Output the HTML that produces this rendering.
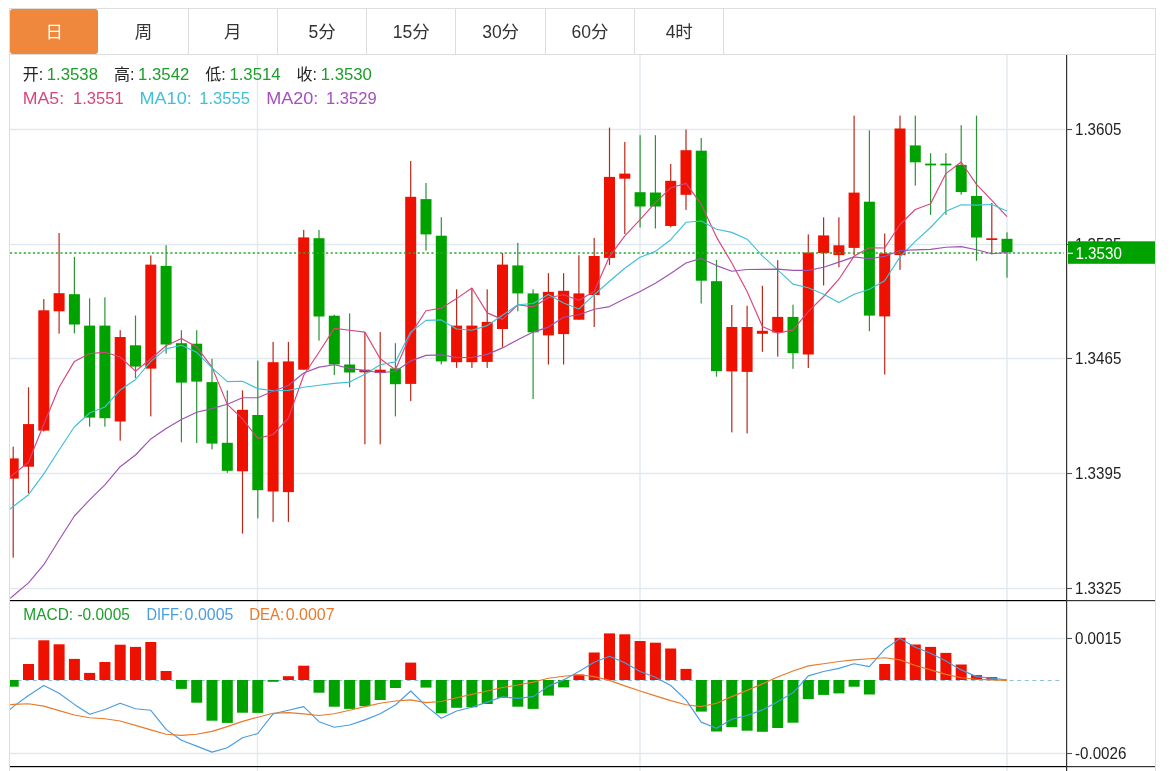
<!DOCTYPE html><html lang="zh"><head><meta charset="utf-8"><title>K线图</title>
<style>
html,body{margin:0;padding:0;background:#fff;overflow:hidden}
body{width:1171px;height:771px;position:relative;font-family:"Liberation Sans","Noto Sans CJK SC",sans-serif}
.tabs{position:absolute;left:9px;top:8px;width:1147px;height:47px;border:1px solid #ddd;box-sizing:border-box;background:#fff}
.tab{position:absolute;top:0;height:45px;line-height:47.6px;overflow:hidden;text-align:center;font-size:17.5px;color:#333;border-right:1px solid #ddd;box-sizing:border-box}
.tab.on{background:#ef873d;color:#fff;border-radius:3px;border-right:none}
svg{position:absolute;left:0;top:0}
svg text{font-family:"Liberation Sans","Noto Sans CJK SC",sans-serif}
</style></head><body>
<div class="tabs">
<div class="tab on" style="left:0.0px;width:88.4px">日</div>
<div class="tab" style="left:89.3px;width:89.3px">周</div>
<div class="tab" style="left:178.6px;width:89.3px">月</div>
<div class="tab" style="left:267.9px;width:89.3px">5分</div>
<div class="tab" style="left:357.2px;width:89.3px">15分</div>
<div class="tab" style="left:446.5px;width:89.3px">30分</div>
<div class="tab" style="left:535.8px;width:89.3px">60分</div>
<div class="tab" style="left:625.1px;width:89.3px">4时</div>
</div>
<svg width="1171" height="771" viewBox="0 0 1171 771">
<rect x="9" y="54" width="1" height="717" fill="#ddd"/>
<rect x="1155" y="54" width="1" height="717" fill="#ddd"/>
<rect x="10" y="128.75" width="1055" height="1.5" fill="#e1e9ee"/>
<rect x="10" y="243.75" width="1055" height="1.5" fill="#e1e9ee"/>
<rect x="10" y="357.75" width="1055" height="1.5" fill="#e1e9ee"/>
<rect x="10" y="472.75" width="1055" height="1.5" fill="#e1e9ee"/>
<rect x="10" y="587.75" width="1055" height="1.5" fill="#e1e9ee"/>
<rect x="10" y="637.75" width="1055" height="1.5" fill="#e1e9ee"/>
<rect x="10" y="752.75" width="1055" height="1.5" fill="#e1e9ee"/>
<rect x="256.8" y="55" width="1.4" height="716" fill="#e1e9ee"/>
<rect x="639.3" y="55" width="1.4" height="716" fill="#e1e9ee"/>
<rect x="1006.3" y="55" width="1.4" height="716" fill="#e1e9ee"/>
<defs><clipPath id="cp"><rect x="10" y="55" width="1056" height="716"/></clipPath></defs>
<g clip-path="url(#cp)">
<line x1="10" y1="680.5" x2="1062" y2="680.5" stroke="#8cc3de" stroke-width="1" stroke-dasharray="4 3.63"/>
<rect x="7.7" y="680" width="11" height="6.7" fill="#00a200"/>
<rect x="23.0" y="664.0" width="11" height="16.0" fill="#ee1100"/>
<rect x="38.3" y="640.3" width="11" height="39.7" fill="#ee1100"/>
<rect x="53.6" y="644.3" width="11" height="35.7" fill="#ee1100"/>
<rect x="68.9" y="658.9" width="11" height="21.1" fill="#ee1100"/>
<rect x="84.1" y="672.9" width="11" height="7.1" fill="#ee1100"/>
<rect x="99.4" y="662.0" width="11" height="18.0" fill="#ee1100"/>
<rect x="114.7" y="644.7" width="11" height="35.3" fill="#ee1100"/>
<rect x="130.0" y="646.9" width="11" height="33.1" fill="#ee1100"/>
<rect x="145.3" y="642.0" width="11" height="38.0" fill="#ee1100"/>
<rect x="160.6" y="671.0" width="11" height="9.0" fill="#ee1100"/>
<rect x="175.9" y="680" width="11" height="8.9" fill="#00a200"/>
<rect x="191.2" y="680" width="11" height="22.7" fill="#00a200"/>
<rect x="206.5" y="680" width="11" height="40.7" fill="#00a200"/>
<rect x="221.8" y="680" width="11" height="42.9" fill="#00a200"/>
<rect x="237.0" y="680" width="11" height="32.7" fill="#00a200"/>
<rect x="252.3" y="680" width="11" height="32.9" fill="#00a200"/>
<rect x="267.6" y="680" width="11" height="1.8" fill="#00a200"/>
<rect x="282.9" y="676.2" width="11" height="3.8" fill="#ee1100"/>
<rect x="298.2" y="665.7" width="11" height="14.3" fill="#ee1100"/>
<rect x="313.5" y="680" width="11" height="12.7" fill="#00a200"/>
<rect x="328.8" y="680" width="11" height="26.7" fill="#00a200"/>
<rect x="344.1" y="680" width="11" height="28.9" fill="#00a200"/>
<rect x="359.4" y="680" width="11" height="26.2" fill="#00a200"/>
<rect x="374.7" y="680" width="11" height="20.0" fill="#00a200"/>
<rect x="389.9" y="680" width="11" height="8.0" fill="#00a200"/>
<rect x="405.2" y="662.6" width="11" height="17.4" fill="#ee1100"/>
<rect x="420.5" y="680" width="11" height="7.6" fill="#00a200"/>
<rect x="435.8" y="680" width="11" height="33.3" fill="#00a200"/>
<rect x="451.1" y="680" width="11" height="27.8" fill="#00a200"/>
<rect x="466.4" y="680" width="11" height="27.3" fill="#00a200"/>
<rect x="481.7" y="680" width="11" height="24.0" fill="#00a200"/>
<rect x="497.0" y="680" width="11" height="17.8" fill="#00a200"/>
<rect x="512.3" y="680" width="11" height="26.7" fill="#00a200"/>
<rect x="527.6" y="680" width="11" height="28.9" fill="#00a200"/>
<rect x="542.9" y="680" width="11" height="15.6" fill="#00a200"/>
<rect x="558.1" y="680" width="11" height="7.4" fill="#00a200"/>
<rect x="573.4" y="674.5" width="11" height="5.5" fill="#ee1100"/>
<rect x="588.7" y="652.5" width="11" height="27.5" fill="#ee1100"/>
<rect x="604.0" y="633.4" width="11" height="46.6" fill="#ee1100"/>
<rect x="619.3" y="634.3" width="11" height="45.7" fill="#ee1100"/>
<rect x="634.6" y="641.0" width="11" height="39.0" fill="#ee1100"/>
<rect x="649.9" y="642.7" width="11" height="37.3" fill="#ee1100"/>
<rect x="665.2" y="648.5" width="11" height="31.5" fill="#ee1100"/>
<rect x="680.5" y="668.9" width="11" height="11.1" fill="#ee1100"/>
<rect x="695.8" y="680" width="11" height="31.6" fill="#00a200"/>
<rect x="711.0" y="680" width="11" height="51.5" fill="#00a200"/>
<rect x="726.3" y="680" width="11" height="47.1" fill="#00a200"/>
<rect x="741.6" y="680" width="11" height="50.7" fill="#00a200"/>
<rect x="756.9" y="680" width="11" height="51.8" fill="#00a200"/>
<rect x="772.2" y="680" width="11" height="48.0" fill="#00a200"/>
<rect x="787.5" y="680" width="11" height="42.7" fill="#00a200"/>
<rect x="802.8" y="680" width="11" height="19.1" fill="#00a200"/>
<rect x="818.1" y="680" width="11" height="14.9" fill="#00a200"/>
<rect x="833.4" y="680" width="11" height="13.4" fill="#00a200"/>
<rect x="848.6" y="680" width="11" height="6.7" fill="#00a200"/>
<rect x="863.9" y="680" width="11" height="14.5" fill="#00a200"/>
<rect x="879.2" y="664.0" width="11" height="16.0" fill="#ee1100"/>
<rect x="894.5" y="637.8" width="11" height="42.2" fill="#ee1100"/>
<rect x="909.8" y="644.5" width="11" height="35.5" fill="#ee1100"/>
<rect x="925.1" y="646.9" width="11" height="33.1" fill="#ee1100"/>
<rect x="940.4" y="652.9" width="11" height="27.1" fill="#ee1100"/>
<rect x="955.7" y="664.5" width="11" height="15.5" fill="#ee1100"/>
<rect x="971.0" y="675.1" width="11" height="4.9" fill="#ee1100"/>
<rect x="986.3" y="677.1" width="11" height="2.9" fill="#ee1100"/>
<rect x="12.6" y="446.7" width="1.2" height="111.0" fill="#ba2819"/>
<rect x="7.7" y="458.4" width="11" height="20.2" fill="#ee1100"/>
<rect x="27.9" y="387.3" width="1.2" height="106.1" fill="#ba2819"/>
<rect x="23.0" y="424.1" width="11" height="42.6" fill="#ee1100"/>
<rect x="43.2" y="299.1" width="1.2" height="132.4" fill="#ba2819"/>
<rect x="38.3" y="310.3" width="11" height="120.3" fill="#ee1100"/>
<rect x="58.5" y="233.0" width="1.2" height="100.6" fill="#ba2819"/>
<rect x="53.6" y="293.2" width="11" height="18.1" fill="#ee1100"/>
<rect x="73.8" y="256.8" width="1.2" height="76.6" fill="#2a9436"/>
<rect x="68.9" y="294.2" width="11" height="30.3" fill="#00a200"/>
<rect x="89.0" y="298.3" width="1.2" height="128.4" fill="#2a9436"/>
<rect x="84.1" y="325.6" width="11" height="92.0" fill="#00a200"/>
<rect x="104.3" y="297.3" width="1.2" height="129.4" fill="#2a9436"/>
<rect x="99.4" y="325.6" width="11" height="92.6" fill="#00a200"/>
<rect x="119.6" y="330.2" width="1.2" height="110.5" fill="#ba2819"/>
<rect x="114.7" y="337.0" width="11" height="84.5" fill="#ee1100"/>
<rect x="134.9" y="315.5" width="1.2" height="62.7" fill="#2a9436"/>
<rect x="130.0" y="345.3" width="11" height="21.3" fill="#00a200"/>
<rect x="150.2" y="255.5" width="1.2" height="160.9" fill="#ba2819"/>
<rect x="145.3" y="264.6" width="11" height="104.0" fill="#ee1100"/>
<rect x="165.5" y="245.2" width="1.2" height="108.4" fill="#2a9436"/>
<rect x="160.6" y="265.9" width="11" height="78.6" fill="#00a200"/>
<rect x="180.8" y="330.2" width="1.2" height="112.1" fill="#2a9436"/>
<rect x="175.9" y="343.2" width="11" height="39.4" fill="#00a200"/>
<rect x="196.1" y="330.2" width="1.2" height="112.8" fill="#2a9436"/>
<rect x="191.2" y="343.7" width="11" height="37.9" fill="#00a200"/>
<rect x="211.4" y="358.8" width="1.2" height="90.5" fill="#2a9436"/>
<rect x="206.5" y="382.1" width="11" height="61.5" fill="#00a200"/>
<rect x="226.7" y="390.4" width="1.2" height="82.5" fill="#2a9436"/>
<rect x="221.8" y="442.8" width="11" height="28.0" fill="#00a200"/>
<rect x="241.9" y="390.4" width="1.2" height="143.2" fill="#ba2819"/>
<rect x="237.0" y="409.8" width="11" height="61.5" fill="#ee1100"/>
<rect x="257.2" y="360.6" width="1.2" height="157.7" fill="#2a9436"/>
<rect x="252.3" y="415.0" width="11" height="75.2" fill="#00a200"/>
<rect x="272.5" y="341.9" width="1.2" height="180.0" fill="#ba2819"/>
<rect x="267.6" y="362.2" width="11" height="129.3" fill="#ee1100"/>
<rect x="287.8" y="341.9" width="1.2" height="180.0" fill="#ba2819"/>
<rect x="282.9" y="361.4" width="11" height="130.7" fill="#ee1100"/>
<rect x="303.1" y="229.9" width="1.2" height="139.8" fill="#ba2819"/>
<rect x="298.2" y="237.4" width="11" height="132.3" fill="#ee1100"/>
<rect x="318.4" y="229.9" width="1.2" height="110.7" fill="#2a9436"/>
<rect x="313.5" y="238.2" width="11" height="78.3" fill="#00a200"/>
<rect x="333.7" y="314.7" width="1.2" height="60.4" fill="#2a9436"/>
<rect x="328.8" y="315.7" width="11" height="48.8" fill="#00a200"/>
<rect x="349.0" y="313.4" width="1.2" height="73.9" fill="#2a9436"/>
<rect x="344.1" y="364.5" width="11" height="8.0" fill="#00a200"/>
<rect x="364.3" y="332.1" width="1.2" height="112.2" fill="#ba2819"/>
<rect x="359.4" y="369.7" width="11" height="2.6" fill="#ee1100"/>
<rect x="379.6" y="332.1" width="1.2" height="112.2" fill="#ba2819"/>
<rect x="374.7" y="369.7" width="11" height="3.3" fill="#ee1100"/>
<rect x="394.8" y="343.2" width="1.2" height="73.2" fill="#2a9436"/>
<rect x="389.9" y="368.4" width="11" height="15.8" fill="#00a200"/>
<rect x="410.1" y="161.0" width="1.2" height="240.1" fill="#ba2819"/>
<rect x="405.2" y="196.8" width="11" height="187.1" fill="#ee1100"/>
<rect x="425.4" y="183.0" width="1.2" height="67.6" fill="#2a9436"/>
<rect x="420.5" y="199.1" width="11" height="35.3" fill="#00a200"/>
<rect x="440.7" y="217.2" width="1.2" height="147.3" fill="#2a9436"/>
<rect x="435.8" y="235.7" width="11" height="125.7" fill="#00a200"/>
<rect x="456.0" y="289.3" width="1.2" height="78.6" fill="#ba2819"/>
<rect x="451.1" y="325.6" width="11" height="36.6" fill="#ee1100"/>
<rect x="471.3" y="288.0" width="1.2" height="79.9" fill="#ba2819"/>
<rect x="466.4" y="325.6" width="11" height="36.6" fill="#ee1100"/>
<rect x="486.6" y="289.3" width="1.2" height="78.6" fill="#ba2819"/>
<rect x="481.7" y="321.9" width="11" height="40.0" fill="#ee1100"/>
<rect x="501.9" y="253.0" width="1.2" height="94.1" fill="#ba2819"/>
<rect x="497.0" y="264.6" width="11" height="64.4" fill="#ee1100"/>
<rect x="517.2" y="242.8" width="1.2" height="68.5" fill="#2a9436"/>
<rect x="512.3" y="265.4" width="11" height="28.0" fill="#00a200"/>
<rect x="532.5" y="289.3" width="1.2" height="109.7" fill="#2a9436"/>
<rect x="527.6" y="293.4" width="11" height="38.9" fill="#00a200"/>
<rect x="547.8" y="273.2" width="1.2" height="91.3" fill="#ba2819"/>
<rect x="542.9" y="291.9" width="11" height="43.5" fill="#ee1100"/>
<rect x="563.0" y="273.2" width="1.2" height="91.3" fill="#ba2819"/>
<rect x="558.1" y="290.8" width="11" height="43.3" fill="#ee1100"/>
<rect x="578.3" y="255.2" width="1.2" height="64.5" fill="#ba2819"/>
<rect x="573.4" y="293.4" width="11" height="26.3" fill="#ee1100"/>
<rect x="593.6" y="237.9" width="1.2" height="89.1" fill="#ba2819"/>
<rect x="588.7" y="256.0" width="11" height="39.0" fill="#ee1100"/>
<rect x="608.9" y="127.6" width="1.2" height="137.3" fill="#ba2819"/>
<rect x="604.0" y="176.9" width="11" height="81.0" fill="#ee1100"/>
<rect x="624.2" y="141.9" width="1.2" height="92.1" fill="#ba2819"/>
<rect x="619.3" y="173.6" width="11" height="5.1" fill="#ee1100"/>
<rect x="639.5" y="135.2" width="1.2" height="92.3" fill="#2a9436"/>
<rect x="634.6" y="192.2" width="11" height="14.3" fill="#00a200"/>
<rect x="654.8" y="135.2" width="1.2" height="93.3" fill="#2a9436"/>
<rect x="649.9" y="192.5" width="11" height="14.0" fill="#00a200"/>
<rect x="670.1" y="164.0" width="1.2" height="63.3" fill="#ba2819"/>
<rect x="665.2" y="180.8" width="11" height="45.2" fill="#ee1100"/>
<rect x="685.4" y="129.5" width="1.2" height="80.4" fill="#ba2819"/>
<rect x="680.5" y="150.2" width="11" height="44.6" fill="#ee1100"/>
<rect x="700.6" y="138.0" width="1.2" height="165.5" fill="#2a9436"/>
<rect x="695.8" y="150.7" width="11" height="130.0" fill="#00a200"/>
<rect x="715.9" y="259.9" width="1.2" height="116.7" fill="#2a9436"/>
<rect x="711.0" y="281.2" width="11" height="89.9" fill="#00a200"/>
<rect x="731.2" y="305.0" width="1.2" height="127.4" fill="#ba2819"/>
<rect x="726.3" y="327.0" width="11" height="44.4" fill="#ee1100"/>
<rect x="746.5" y="305.8" width="1.2" height="127.6" fill="#ba2819"/>
<rect x="741.6" y="327.0" width="11" height="44.9" fill="#ee1100"/>
<rect x="761.8" y="285.8" width="1.2" height="66.0" fill="#ba2819"/>
<rect x="756.9" y="330.8" width="11" height="3.0" fill="#ee1100"/>
<rect x="777.1" y="260.2" width="1.2" height="96.4" fill="#ba2819"/>
<rect x="772.2" y="316.9" width="11" height="15.6" fill="#ee1100"/>
<rect x="792.4" y="304.7" width="1.2" height="64.1" fill="#2a9436"/>
<rect x="787.5" y="316.9" width="11" height="36.3" fill="#00a200"/>
<rect x="807.7" y="234.4" width="1.2" height="133.6" fill="#ba2819"/>
<rect x="802.8" y="252.5" width="11" height="102.0" fill="#ee1100"/>
<rect x="823.0" y="217.3" width="1.2" height="68.2" fill="#ba2819"/>
<rect x="818.1" y="235.4" width="11" height="17.6" fill="#ee1100"/>
<rect x="838.3" y="217.3" width="1.2" height="50.0" fill="#ba2819"/>
<rect x="833.4" y="245.3" width="11" height="9.8" fill="#ee1100"/>
<rect x="853.5" y="115.6" width="1.2" height="139.5" fill="#ba2819"/>
<rect x="848.6" y="192.6" width="11" height="55.3" fill="#ee1100"/>
<rect x="868.8" y="130.4" width="1.2" height="200.8" fill="#2a9436"/>
<rect x="863.9" y="201.7" width="11" height="113.9" fill="#00a200"/>
<rect x="884.1" y="233.5" width="1.2" height="141.0" fill="#ba2819"/>
<rect x="879.2" y="253.4" width="11" height="63.0" fill="#ee1100"/>
<rect x="899.4" y="115.6" width="1.2" height="154.3" fill="#ba2819"/>
<rect x="894.5" y="128.5" width="11" height="126.6" fill="#ee1100"/>
<rect x="914.7" y="115.6" width="1.2" height="70.0" fill="#2a9436"/>
<rect x="909.8" y="145.4" width="11" height="16.9" fill="#00a200"/>
<rect x="930.0" y="153.2" width="1.2" height="61.7" fill="#2a9436"/>
<rect x="925.1" y="163.6" width="11" height="1.8" fill="#00a200"/>
<rect x="945.3" y="153.2" width="1.2" height="61.7" fill="#2a9436"/>
<rect x="940.4" y="163.6" width="11" height="1.8" fill="#00a200"/>
<rect x="960.6" y="125.2" width="1.2" height="69.5" fill="#2a9436"/>
<rect x="955.7" y="164.9" width="11" height="27.2" fill="#00a200"/>
<rect x="975.9" y="115.6" width="1.2" height="145.2" fill="#2a9436"/>
<rect x="971.0" y="196.0" width="11" height="41.5" fill="#00a200"/>
<rect x="991.2" y="203.0" width="1.2" height="51.3" fill="#ba2819"/>
<rect x="986.3" y="238.3" width="11" height="1.7" fill="#ee1100"/>
<rect x="1006.4" y="232.3" width="1.2" height="45.4" fill="#2a9436"/>
<rect x="1001.5" y="238.8" width="11" height="13.5" fill="#00a200"/>
<line x1="10" y1="253" x2="1064" y2="253" stroke="#2aa82a" stroke-width="1.6" stroke-dasharray="2.2 2.38"/>
<polyline fill="none" stroke="#d8457c" stroke-width="1.15" stroke-linejoin="round" points="10,477.0 13.2,474.4 28.5,462.3 43.8,424.3 59.1,387.3 74.4,361.4 89.6,353.6 104.9,352.3 120.2,357.0 135.5,371.2 150.8,358.8 166.1,345.8 181.4,338.5 196.7,347.0 212.0,367.1 227.3,404.4 242.5,418.9 257.8,438.4 273.1,434.5 288.4,418.1 303.7,375.3 319.0,352.3 334.3,328.4 349.6,330.2 364.9,332.1 380.2,358.8 395.4,369.7 410.7,334.1 426.0,310.8 441.3,308.2 456.6,298.6 471.9,288.0 487.2,312.9 502.5,319.4 517.8,304.8 533.1,306.9 548.4,297.8 563.6,294.7 578.9,300.3 594.2,291.6 609.5,256.6 624.8,235.8 640.1,219.7 655.4,202.6 670.7,187.8 686.0,183.4 701.2,204.2 716.5,237.1 731.8,263.0 747.1,291.5 762.4,326.5 777.7,333.2 793.0,329.9 808.3,311.7 823.6,296.5 838.9,279.2 854.1,256.1 869.4,247.7 884.7,248.0 900.0,224.5 915.3,209.5 930.6,203.8 945.9,173.6 961.2,162.0 976.5,184.3 991.8,200.4 1007.0,216.7"/>
<polyline fill="none" stroke="#3fc0d6" stroke-width="1.15" stroke-linejoin="round" points="10,509.0 13.2,506.5 28.5,494.7 43.8,473.9 59.1,450.0 74.4,426.7 89.6,413.0 104.9,407.0 120.2,389.9 135.5,379.5 150.8,361.4 166.1,348.9 181.4,345.3 196.7,352.3 212.0,367.9 227.3,381.6 242.5,381.3 257.8,388.6 273.1,390.7 288.4,390.4 303.7,387.3 319.0,385.2 334.3,383.4 349.6,382.1 364.9,374.3 380.2,364.7 395.4,361.9 410.7,332.1 426.0,320.4 441.3,319.9 456.6,329.0 471.9,330.2 487.2,325.6 502.5,315.2 517.8,304.8 533.1,303.5 548.4,294.4 563.6,303.0 578.9,309.0 594.2,294.7 609.5,281.2 624.8,268.2 640.1,257.3 655.4,251.4 670.7,239.7 686.0,222.3 701.2,221.0 716.5,229.3 731.8,232.4 747.1,239.2 762.4,255.8 777.7,269.9 793.0,284.1 808.3,287.8 823.6,294.3 838.9,302.5 854.1,294.2 869.4,289.2 884.7,280.8 900.0,256.9 915.3,241.4 930.6,227.5 945.9,211.2 961.2,204.8 976.5,205.1 991.8,204.5 1007.0,211.0"/>
<polyline fill="none" stroke="#9e52b2" stroke-width="1.15" stroke-linejoin="round" points="10,598.4 13.2,595.7 28.5,582.9 43.8,564.7 59.1,540.0 74.4,516.0 89.6,499.9 104.9,484.8 120.2,466.7 135.5,455.0 150.8,438.9 166.1,428.5 181.4,419.5 196.7,412.3 212.0,408.6 227.3,404.2 242.5,397.7 257.8,397.7 273.1,391.2 288.4,385.5 303.7,373.0 319.0,367.1 334.3,364.7 349.6,368.4 364.9,370.5 380.2,372.7 395.4,371.2 410.7,360.9 426.0,355.4 441.3,354.9 456.6,357.5 471.9,357.5 487.2,354.4 502.5,347.9 517.8,339.8 533.1,332.1 548.4,327.1 563.6,317.3 578.9,314.7 594.2,309.2 609.5,306.6 624.8,298.8 640.1,291.6 655.4,283.3 670.7,273.4 686.0,263.0 701.2,258.4 716.5,265.6 731.8,271.3 747.1,269.5 762.4,269.4 777.7,269.1 793.0,270.4 808.3,270.4 823.6,267.3 838.9,262.1 854.1,256.9 869.4,258.8 884.7,256.4 900.0,250.5 915.3,249.9 930.6,249.4 945.9,247.2 961.2,246.6 976.5,249.7 991.8,253.8 1007.0,252.5"/>
<polyline fill="none" stroke="#4a9ce0" stroke-width="1.15" stroke-linejoin="round" points="10,709.5 13.2,706.6 28.5,695.5 43.8,685.5 59.1,693.3 74.4,704.4 89.6,714.3 104.9,709.5 120.2,703.2 135.5,708.8 150.8,710.3 166.1,729.4 181.4,740.3 196.7,746.1 212.0,752.1 227.3,747.7 242.5,737.7 257.8,733.5 273.1,713.9 288.4,710.3 303.7,706.6 319.0,721.7 334.3,727.2 349.6,725.0 364.9,719.9 380.2,713.7 395.4,705.0 410.7,691.0 426.0,705.9 441.3,718.3 456.6,711.0 471.9,707.2 487.2,702.1 502.5,696.8 517.8,698.4 533.1,696.6 548.4,686.1 563.6,679.9 578.9,671.5 594.2,662.2 609.5,656.2 624.8,662.8 640.1,671.5 655.4,677.3 670.7,685.5 686.0,699.9 701.2,722.1 716.5,728.3 731.8,719.2 747.1,715.5 762.4,709.9 777.7,701.7 793.0,692.8 808.3,675.9 823.6,671.5 838.9,668.4 854.1,663.7 869.4,666.6 884.7,649.3 900.0,638.4 915.3,647.3 930.6,653.3 945.9,661.1 961.2,669.9 976.5,676.6 991.8,678.2 1007.0,679.9"/>
<polyline fill="none" stroke="#e87a2a" stroke-width="1.15" stroke-linejoin="round" points="10,704.8 13.2,704.4 28.5,703.7 43.8,706.1 59.1,710.6 74.4,715.0 89.6,717.7 104.9,718.8 120.2,721.0 135.5,725.4 150.8,729.9 166.1,734.3 181.4,735.4 196.7,734.3 212.0,731.4 227.3,726.6 242.5,721.4 257.8,717.2 273.1,713.2 288.4,712.6 303.7,713.9 319.0,715.5 334.3,713.7 349.6,710.3 364.9,706.6 380.2,703.2 395.4,701.0 410.7,699.9 426.0,702.6 441.3,701.5 456.6,697.7 471.9,694.4 487.2,691.0 502.5,687.5 517.8,685.0 533.1,682.1 548.4,678.2 563.6,676.2 578.9,674.8 594.2,676.6 609.5,680.4 624.8,685.9 640.1,691.0 655.4,695.9 670.7,700.6 686.0,704.8 701.2,706.6 716.5,703.2 731.8,696.6 747.1,690.4 762.4,683.9 777.7,677.0 793.0,671.0 808.3,665.9 823.6,663.7 838.9,661.5 854.1,659.9 869.4,658.8 884.7,657.7 900.0,659.9 915.3,665.5 930.6,669.9 945.9,674.4 961.2,677.7 976.5,679.3 991.8,679.9 1007.0,680.4"/>
</g>
<rect x="10" y="600" width="1056" height="1.2" fill="#000"/>
<rect x="1066" y="600" width="89" height="1.2" fill="#333"/>
<rect x="10" y="766" width="1056" height="1.2" fill="#000"/>
<rect x="1066" y="766" width="89" height="1.2" fill="#333"/>
<rect x="1066" y="55" width="1.2" height="716" fill="#333"/>
<rect x="1067" y="128.95" width="5" height="1.1" fill="#555"/>
<text x="1075" y="134.8" font-size="16" fill="#222" textLength="46.3" lengthAdjust="spacingAndGlyphs">1.3605</text>
<rect x="1067" y="243.95" width="5" height="1.1" fill="#555"/>
<text x="1075" y="249.8" font-size="16" fill="#222" textLength="46.3" lengthAdjust="spacingAndGlyphs">1.3535</text>
<rect x="1067" y="357.95" width="5" height="1.1" fill="#555"/>
<text x="1075" y="363.8" font-size="16" fill="#222" textLength="46.3" lengthAdjust="spacingAndGlyphs">1.3465</text>
<rect x="1067" y="472.95" width="5" height="1.1" fill="#555"/>
<text x="1075" y="478.8" font-size="16" fill="#222" textLength="46.3" lengthAdjust="spacingAndGlyphs">1.3395</text>
<rect x="1067" y="587.95" width="5" height="1.1" fill="#555"/>
<text x="1075" y="593.8" font-size="16" fill="#222" textLength="46.3" lengthAdjust="spacingAndGlyphs">1.3325</text>
<rect x="1067" y="637.95" width="5" height="1.1" fill="#555"/>
<text x="1075" y="643.8" font-size="16" fill="#222" textLength="46.3" lengthAdjust="spacingAndGlyphs">0.0015</text>
<rect x="1067" y="752.95" width="5" height="1.1" fill="#555"/>
<text x="1075" y="758.8" font-size="16" fill="#222" textLength="51.3" lengthAdjust="spacingAndGlyphs">-0.0026</text>
<rect x="1068" y="241.3" width="87" height="22.5" fill="#00a200"/>
<rect x="1068" y="252.7" width="5" height="1.3" fill="#fff"/>
<text x="1075.5" y="258.6" font-size="16" fill="#fff" textLength="46.3" lengthAdjust="spacingAndGlyphs">1.3530</text>
<text x="22.7" y="80.3" font-size="16" fill="#222">开:</text>
<text x="46.8" y="80.2" font-size="16.7" fill="#1c9e2a" textLength="51.2" lengthAdjust="spacingAndGlyphs">1.3538</text>
<text x="114" y="80.3" font-size="16" fill="#222">高:</text>
<text x="138.1" y="80.2" font-size="16.7" fill="#1c9e2a" textLength="51.2" lengthAdjust="spacingAndGlyphs">1.3542</text>
<text x="205.3" y="80.3" font-size="16" fill="#222">低:</text>
<text x="229.4" y="80.2" font-size="16.7" fill="#1c9e2a" textLength="51.2" lengthAdjust="spacingAndGlyphs">1.3514</text>
<text x="296.6" y="80.3" font-size="16" fill="#222">收:</text>
<text x="320.7" y="80.2" font-size="16.7" fill="#1c9e2a" textLength="51.2" lengthAdjust="spacingAndGlyphs">1.3530</text>
<text x="22.8" y="103.6" font-size="16.7" fill="#d8457c" textLength="41.3" lengthAdjust="spacingAndGlyphs">MA5:</text>
<text x="73" y="103.6" font-size="16.7" fill="#d8457c" textLength="50.6" lengthAdjust="spacingAndGlyphs">1.3551</text>
<text x="139.5" y="103.6" font-size="16.7" fill="#3fc0d6" textLength="52.2" lengthAdjust="spacingAndGlyphs">MA10:</text>
<text x="199.3" y="103.6" font-size="16.7" fill="#3fc0d6" textLength="50.6" lengthAdjust="spacingAndGlyphs">1.3555</text>
<text x="266.2" y="103.6" font-size="16.7" fill="#a64fbf" textLength="52.2" lengthAdjust="spacingAndGlyphs">MA20:</text>
<text x="326" y="103.6" font-size="16.7" fill="#a64fbf" textLength="50.6" lengthAdjust="spacingAndGlyphs">1.3529</text>
<text x="23.3" y="620" font-size="16.3" fill="#1c9e2a" textLength="106.6" lengthAdjust="spacingAndGlyphs">MACD: -0.0005</text>
<text x="146.5" y="620" font-size="16.3" fill="#4a9ce0" textLength="36.5" lengthAdjust="spacingAndGlyphs">DIFF:</text>
<text x="184.6" y="620" font-size="16.3" fill="#4a9ce0" textLength="48.8" lengthAdjust="spacingAndGlyphs">0.0005</text>
<text x="249.3" y="620" font-size="16.3" fill="#e87a2a" textLength="35" lengthAdjust="spacingAndGlyphs">DEA:</text>
<text x="285.8" y="620" font-size="16.3" fill="#e87a2a" textLength="48.8" lengthAdjust="spacingAndGlyphs">0.0007</text>
</svg></body></html>
